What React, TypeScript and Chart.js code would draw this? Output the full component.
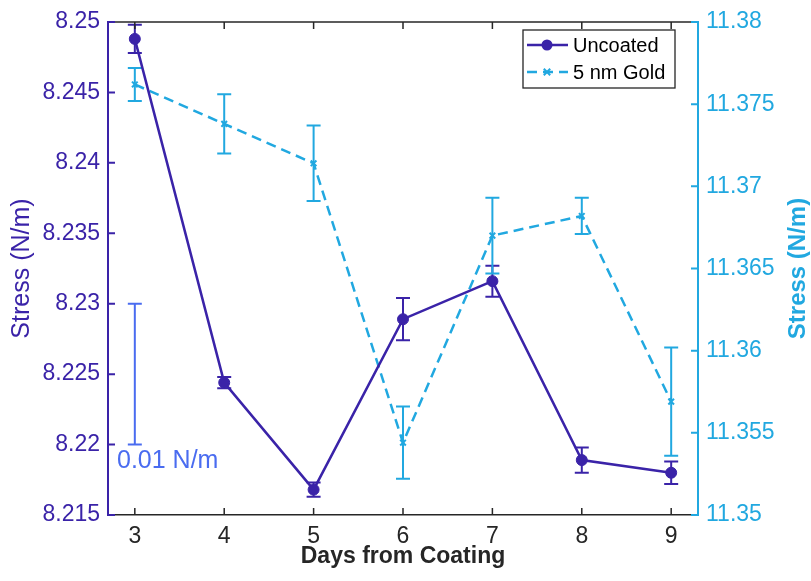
import React, { useEffect, useRef } from 'react';
import { Chart, registerables } from 'chart.js';

Chart.register(...registerables);

// ---------- data ----------
const DAYS = [3, 4, 5, 6, 7, 8, 9];
const UNCOATED = [8.2488, 8.2244, 8.2168, 8.2289, 8.2316, 8.2189, 8.218];
const UNCOATED_ERR = [0.001, 0.0004, 0.0005, 0.0015, 0.0011, 0.0009, 0.0008];
const GOLD = [11.3762, 11.3738, 11.3714, 11.3544, 11.367, 11.3682, 11.3569];
const GOLD_ERR = [0.001, 0.0018, 0.0023, 0.0022, 0.0023, 0.0011, 0.0033];

const SERIES_LABELS = ['Uncoated', '5 nm Gold'];

const X_RANGE = [2.7, 9.3];
const X_TICKS = [3, 4, 5, 6, 7, 8, 9];
const X_TICK_LABELS = ['3', '4', '5', '6', '7', '8', '9'];

const LEFT_RANGE = [8.215, 8.25];
const LEFT_TICKS = [8.215, 8.22, 8.225, 8.23, 8.235, 8.24, 8.245, 8.25];
const LEFT_TICK_LABELS = ['8.215', '8.22', '8.225', '8.23', '8.235', '8.24', '8.245', '8.25'];

const RIGHT_RANGE = [11.35, 11.38];
const RIGHT_TICKS = [11.35, 11.355, 11.36, 11.365, 11.37, 11.375, 11.38];
const RIGHT_TICK_LABELS = ['11.35', '11.355', '11.36', '11.365', '11.37', '11.375', '11.38'];

const SCALE_BAR_DAY = 3;
const SCALE_BAR_RANGE = [8.22, 8.23];
const SCALE_BAR_LABEL = '0.01 N/m';

const X_TITLE = 'Days from Coating';
const LEFT_TITLE = 'Stress (N/m)';
const RIGHT_TITLE = 'Stress (N/m)';

// ---------- style ----------
const FONT = "'Liberation Sans', Arial, Helvetica, sans-serif";
const PURPLE = '#3A23A8';
const CYAN = '#21A8E0';
const BAR_BLUE = '#4A6CF0';
const DARK = '#262626';

const errorBarPlugin = {
  id: 'errorBars',
  beforeDatasetsDraw(chart: any) {
    const ctx = chart.ctx;
    chart.data.datasets.forEach((ds: any, di: number) => {
      const meta = chart.getDatasetMeta(di);
      const yScale = chart.scales[ds.yAxisID];
      const errs: number[] = ds.errors || [];
      ctx.save();
      ctx.strokeStyle = ds.borderColor;
      ctx.lineWidth = 2;
      ctx.setLineDash([]);
      meta.data.forEach((pt: any, i: number) => {
        const v = ds.data[i].y;
        const e = errs[i] || 0;
        const x = pt.x;
        const yt = yScale.getPixelForValue(v + e);
        const yb = yScale.getPixelForValue(v - e);
        const cap = 7;
        ctx.beginPath();
        ctx.moveTo(x, yt);
        ctx.lineTo(x, yb);
        ctx.moveTo(x - cap, yt);
        ctx.lineTo(x + cap, yt);
        ctx.moveTo(x - cap, yb);
        ctx.lineTo(x + cap, yb);
        ctx.stroke();
      });
      ctx.restore();
    });
  },
};

const framePlugin = {
  id: 'frame',
  afterDraw(chart: any) {
    const ctx = chart.ctx;
    const { left, right, top, bottom } = chart.chartArea;
    const xs = chart.scales.x;
    const yl = chart.scales.y;
    const yr = chart.scales.y1;
    const tl = 7;
    ctx.save();
    ctx.setLineDash([]);
    // top border
    ctx.strokeStyle = DARK;
    ctx.lineWidth = 1.5;
    ctx.beginPath();
    ctx.moveTo(left, top);
    ctx.lineTo(right, top);
    ctx.stroke();
    // x ticks (bottom + top), inward
    ctx.beginPath();
    X_TICKS.forEach((v) => {
      const px = xs.getPixelForValue(v);
      ctx.moveTo(px, bottom);
      ctx.lineTo(px, bottom - tl);
      ctx.moveTo(px, top);
      ctx.lineTo(px, top + tl);
    });
    ctx.stroke();
    // left ticks
    ctx.strokeStyle = PURPLE;
    ctx.lineWidth = 2;
    ctx.beginPath();
    LEFT_TICKS.forEach((v) => {
      const py = yl.getPixelForValue(v);
      ctx.moveTo(left, py);
      ctx.lineTo(left + tl, py);
    });
    ctx.stroke();
    // right ticks
    ctx.strokeStyle = CYAN;
    ctx.beginPath();
    RIGHT_TICKS.forEach((v) => {
      const py = yr.getPixelForValue(v);
      ctx.moveTo(right, py);
      ctx.lineTo(right - tl, py);
    });
    ctx.stroke();

    // right axis title (reads bottom-to-top)
    ctx.fillStyle = CYAN;
    ctx.font = `bold 24px ${FONT}`;
    ctx.textAlign = 'center';
    ctx.textBaseline = 'middle';
    ctx.translate(798, (top + bottom) / 2);
    ctx.rotate(-Math.PI / 2);
    ctx.fillText(RIGHT_TITLE, 0, 0);
    ctx.restore();

    // scale bar
    ctx.save();
    const bx = xs.getPixelForValue(SCALE_BAR_DAY);
    const b1 = yl.getPixelForValue(SCALE_BAR_RANGE[0]);
    const b2 = yl.getPixelForValue(SCALE_BAR_RANGE[1]);
    ctx.strokeStyle = BAR_BLUE;
    ctx.lineWidth = 2;
    ctx.beginPath();
    ctx.moveTo(bx, b1);
    ctx.lineTo(bx, b2);
    ctx.moveTo(bx - 7, b1);
    ctx.lineTo(bx + 7, b1);
    ctx.moveTo(bx - 7, b2);
    ctx.lineTo(bx + 7, b2);
    ctx.stroke();
    ctx.fillStyle = BAR_BLUE;
    ctx.font = `25px ${FONT}`;
    ctx.textAlign = 'left';
    ctx.textBaseline = 'middle';
    ctx.fillText(SCALE_BAR_LABEL, left + 9, b1 + 17);
    ctx.restore();

    // legend box
    ctx.save();
    const lx = 523, ly = 30, lw = 152, lh = 58;
    ctx.fillStyle = '#ffffff';
    ctx.fillRect(lx, ly, lw, lh);
    ctx.strokeStyle = DARK;
    ctx.lineWidth = 1.3;
    ctx.strokeRect(lx, ly, lw, lh);
    const rows = [ly + 15, ly + 42];
    chart.data.datasets.forEach((ds: any, i: number) => {
      const ry = rows[i];
      ctx.strokeStyle = ds.borderColor;
      ctx.lineWidth = ds.borderWidth;
      ctx.setLineDash(ds.borderDash || []);
      ctx.beginPath();
      ctx.moveTo(lx + 4, ry);
      ctx.lineTo(lx + 45, ry);
      ctx.stroke();
      ctx.setLineDash([]);
      const mx = lx + 24;
      if (ds.pointStyle === 'circle') {
        ctx.fillStyle = ds.borderColor;
        ctx.beginPath();
        ctx.arc(mx, ry, ds.pointRadius, 0, Math.PI * 2);
        ctx.fill();
      } else {
        const r = ds.pointRadius * 0.8;
        ctx.lineWidth = 2;
        ctx.beginPath();
        ctx.moveTo(mx - r, ry - r);
        ctx.lineTo(mx + r, ry + r);
        ctx.moveTo(mx - r, ry + r);
        ctx.lineTo(mx + r, ry - r);
        ctx.stroke();
      }
      ctx.fillStyle = '#000000';
      ctx.font = `20px ${FONT}`;
      ctx.textAlign = 'left';
      ctx.textBaseline = 'middle';
      ctx.fillText(ds.label, lx + 50, ry + 1);
    });
    ctx.restore();
  },
};

export default function App() {
  const canvasRef = useRef<HTMLCanvasElement | null>(null);

  useEffect(() => {
    const canvas = canvasRef.current;
    if (!canvas) return;
    const chart = new Chart(canvas, {
      type: 'line',
      data: {
        datasets: [
          {
            label: SERIES_LABELS[0],
            data: DAYS.map((d, i) => ({ x: d, y: UNCOATED[i] })),
            yAxisID: 'y',
            borderColor: PURPLE,
            backgroundColor: PURPLE,
            borderWidth: 2.5,
            pointStyle: 'circle',
            pointRadius: 5.5,
            pointBorderWidth: 1,
            tension: 0,
            errors: UNCOATED_ERR,
          } as any,
          {
            label: SERIES_LABELS[1],
            data: DAYS.map((d, i) => ({ x: d, y: GOLD[i] })),
            yAxisID: 'y1',
            borderColor: CYAN,
            backgroundColor: CYAN,
            borderWidth: 2.5,
            borderDash: [10, 6],
            pointStyle: 'crossRot',
            pointRadius: 4,
            pointBorderWidth: 2,
            tension: 0,
            errors: GOLD_ERR,
          } as any,
        ],
      },
      options: {
        animation: false,
        responsive: true,
        maintainAspectRatio: false,
        layout: { padding: { top: 22, left: 0, right: 0, bottom: 0 } },
        plugins: {
          legend: { display: false },
          tooltip: { enabled: false },
        },
        scales: {
          x: {
            type: 'linear',
            position: 'bottom',
            min: X_RANGE[0],
            max: X_RANGE[1],
            afterBuildTicks: (s: any) => {
              s.ticks = X_TICKS.map((v) => ({ value: v }));
            },
            afterFit: (s: any) => {
              s.height = 66;
            },
            grid: { display: false, drawTicks: false },
            border: { display: true, color: DARK, width: 1.5 },
            ticks: {
              autoSkip: false,
              maxRotation: 0,
              color: DARK,
              padding: 8,
              font: { family: FONT, size: 23 },
              callback: (_v: any, i: number) => X_TICK_LABELS[i],
            },
            title: {
              display: true,
              text: X_TITLE,
              color: DARK,
              font: { family: FONT, size: 23, weight: 'bold' },
              padding: { top: 0, bottom: 11 },
            },
          },
          y: {
            type: 'linear',
            position: 'left',
            min: LEFT_RANGE[0],
            max: LEFT_RANGE[1],
            afterBuildTicks: (s: any) => {
              s.ticks = LEFT_TICKS.map((v) => ({ value: v }));
            },
            afterFit: (s: any) => {
              s.width = 108;
            },
            grid: { display: false, drawTicks: false },
            border: { display: true, color: PURPLE, width: 2 },
            ticks: {
              autoSkip: false,
              color: PURPLE,
              padding: 8,
              font: { family: FONT, size: 23 },
              callback: (_v: any, i: number) => LEFT_TICK_LABELS[i],
            },
            title: {
              display: true,
              text: LEFT_TITLE,
              color: PURPLE,
              font: { family: FONT, size: 25 },
              padding: { top: 7, bottom: 0 },
            },
          },
          y1: {
            type: 'linear',
            position: 'right',
            min: RIGHT_RANGE[0],
            max: RIGHT_RANGE[1],
            afterBuildTicks: (s: any) => {
              s.ticks = RIGHT_TICKS.map((v) => ({ value: v }));
            },
            afterFit: (s: any) => {
              s.width = 113;
            },
            grid: { display: false, drawTicks: false },
            border: { display: true, color: CYAN, width: 2 },
            ticks: {
              autoSkip: false,
              color: CYAN,
              padding: 8,
              font: { family: FONT, size: 23 },
              callback: (_v: any, i: number) => RIGHT_TICK_LABELS[i],
            },
          },
        },
      } as any,
      plugins: [errorBarPlugin, framePlugin],
    });
    return () => chart.destroy();
  }, []);

  return (
    <div style={{ position: 'absolute', left: 0, top: 0, width: 811, height: 581, background: '#ffffff' }}>
      <canvas ref={canvasRef} />
    </div>
  );
}
